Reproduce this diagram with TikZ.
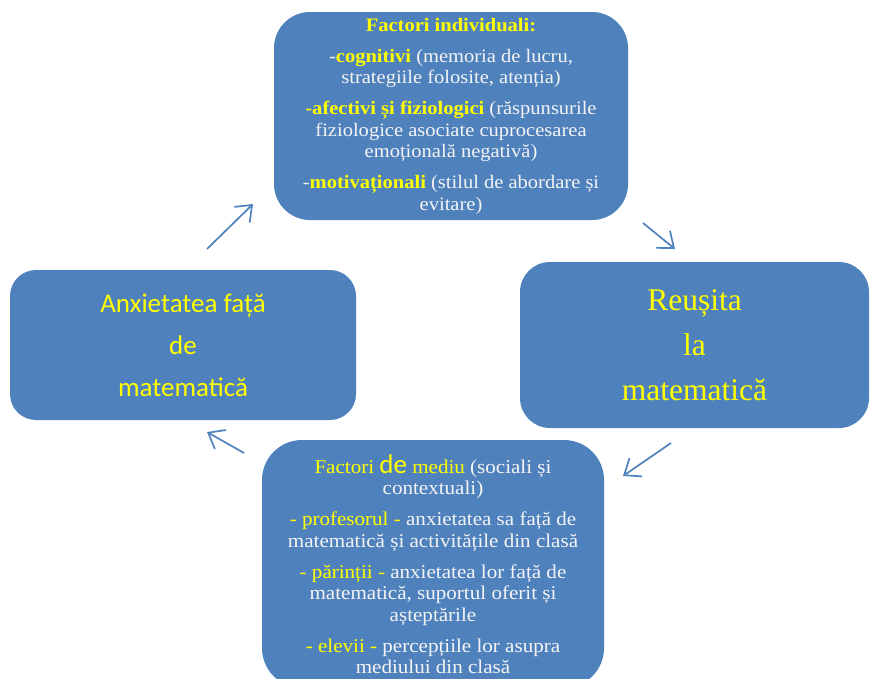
\documentclass[tikz,border=0pt]{standalone}
\usepackage{fontspec}
\setmainfont{Liberation Serif}
\newfontfamily\wserif[FakeStretch=1.08]{Liberation Serif}
\newfontfamily\carl{Carlito}
\usetikzlibrary{arrows.meta}
\definecolor{boxblue}{HTML}{4F81BD}
\definecolor{ylw}{HTML}{FFFF00}
\definecolor{wht}{HTML}{F4F4F4}
\tikzset{
  cbox/.style={fill=boxblue, draw=none, rectangle, align=center, inner sep=0pt, text=wht},
  flowarrow/.style={draw=boxblue, line width=1.7pt, -{Straight Barb[length=14pt,width=22pt,line width=1.7pt]}}
}
\newcommand{\yl}[1]{\textcolor{ylw}{#1}}
\begin{document}
\begin{tikzpicture}[x=1pt,y=-1pt]
\useasboundingbox (0,0) rectangle (870,678);
\clip (0,0) rectangle (870,678);
% top box
\node[cbox, minimum width=354pt, minimum height=208pt, rounded corners=36pt,
      font=\wserif\fontsize{19}{21.5}\selectfont] (top) at (451,116) {%
  \yl{\textbf{Factori individuali:}}\\[9.5pt]
  -\yl{\textbf{cognitivi}} (memoria de lucru,\\
  strategiile folosite, atenția)\\[9.5pt]
  \yl{\textbf{-afectivi și fiziologici}} (răspunsurile\\
  fiziologice asociate cuprocesarea\\
  emoțională negativă)\\[9.5pt]
  -\yl{\textbf{motivaționali}} (stilul de abordare și\\
  evitare)};
% right box
\node[cbox, minimum width=349pt, minimum height=166pt, rounded corners=30pt,
      font=\fontsize{31.5}{45}\selectfont, text=ylw] (right) at (694.5,345) {%
  Reușita\\ la\\ matematică};
% left box
\node[cbox, minimum width=346pt, minimum height=150pt, rounded corners=26pt,
      font=\carl\fontsize{27}{42}\selectfont, text=ylw] (left) at (183,345) {%
  Anxietatea față\\ de\\ matematică};
% bottom box
\node[cbox, minimum width=342pt, minimum height=248pt, rounded corners=40pt,
      font=\wserif\fontsize{19.5}{21.5}\selectfont] (bottom) at (433,564) {%
  \yl{Factori {\carl\fontsize{27}{21.5}\selectfont de} mediu} (sociali și\\
  contextuali)\\[9.5pt]
  \yl{- profesorul -} anxietatea sa față de\\
  matematică și activitățile din clasă\\[9.5pt]
  \yl{- părinții -} anxietatea lor față de\\
  matematică, suportul oferit și\\
  așteptările\\[9.5pt]
  \yl{- elevii -} percepțiile lor asupra\\
  mediului din clasă};
% arrows
\coordinate (a1s) at (207,249);
\coordinate (a1e) at (253,204);
\coordinate (a2s) at (643,223);
\coordinate (a2e) at (675,249);
\coordinate (a3s) at (671,443);
\coordinate (a3e) at (623,476);
\coordinate (a4s) at (244,453);
\coordinate (a4e) at (207,432);
\draw[flowarrow] (a1s) -- (a1e);
\draw[flowarrow] (a2s) -- (a2e);
\draw[flowarrow] (a3s) -- (a3e);
\draw[flowarrow] (a4s) -- (a4e);
\end{tikzpicture}
\end{document}
